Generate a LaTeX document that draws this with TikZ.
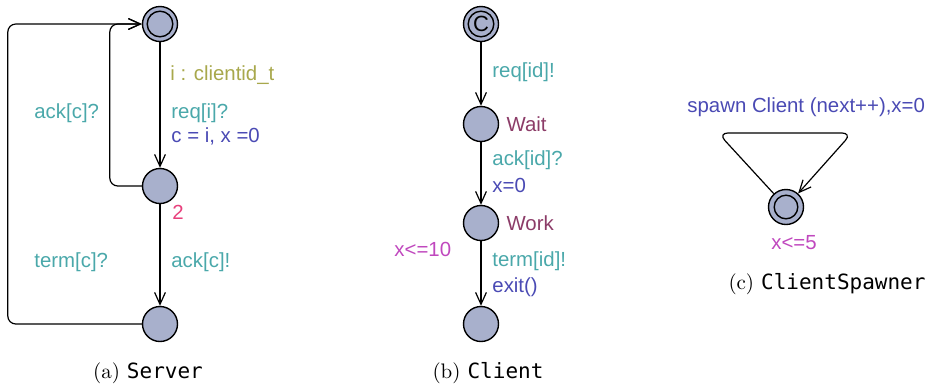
\documentclass[tikz,border=0pt]{standalone}
\usepackage{fontspec}
\newfontfamily\uppfont{Liberation Sans}
\newfontfamily\codefont{DejaVu Sans Mono}
\usepackage{xcolor}
\usetikzlibrary{arrows.meta,positioning}
\definecolor{locfill}{HTML}{A8B0CC}
\definecolor{synccol}{HTML}{4AA8AA}
\definecolor{updcol}{HTML}{4A4AB4}
\definecolor{selcol}{HTML}{A8A84C}
\definecolor{priocol}{HTML}{E8407C}
\definecolor{invcol}{HTML}{C048BE}
\definecolor{namecol}{HTML}{8C3C68}
\tikzset{
  loc/.style={circle, draw, fill=locfill, line width=0.7pt, minimum size=17.5pt, inner sep=0pt},
  init/.style={loc, path picture={\draw[line width=0.7pt] (path picture bounding box.center) circle (#1);}},
  init/.default={6.4pt},
  committed/.style={init, font=\uppfont\fontsize{11}{11}\selectfont},
  trans/.style={draw, line width=0.6pt, -{Straight Barb[length=6pt,width=5.4pt]}, rounded corners=4pt},
  lbl/.style={font=\uppfont\fontsize{10.2}{12}\selectfont, inner sep=0pt, anchor=west},
  sync/.style={lbl, text=synccol},
  upd/.style={lbl, text=updcol},
  select/.style={lbl, text=selcol},
  prio/.style={lbl, text=priocol},
  inv/.style={lbl, text=invcol},
  locname/.style={lbl, text=namecol},
  caption/.style={font=\fontsize{10.5}{12}\selectfont, inner sep=0pt}
}
\begin{document}
\begin{tikzpicture}[x=0.5pt, y=-0.5pt]
\useasboundingbox (0,0) rectangle (925,387);

% Server
\node[init] (srvA) at (160,24) {};
\node[loc] (srvB) at (160,186) {};
\node[loc] (srvC) at (160,324) {};
\draw[trans] (srvA) -- (srvB);
\draw[trans] (srvB) -- (srvC);
\draw[trans] (srvB.west) -- ++(-32,0) |- (srvA.west);
\draw[trans] (srvC.west) -- ++(-134,0) |- (srvA.west);
\node[select] (srvSel) at (170,75) {i : clientid\_t};
\node[sync] (srvReq) at (171,113) {req[i]?};
\node[upd] (srvUpd) at (171,136) {c = i, x =0};
\node[sync] (srvAckIn) at (34,113) {ack[c]?};
\node[prio] (srvPrio) at (172,212) {2};
\node[sync] (srvTerm) at (34,262) {term[c]?};
\node[sync] (srvAckOut) at (171,262) {ack[c]!};
\node[caption] (capA) at (148,373) {(a) {\codefont Server}};

% Client
\node[committed] (cliA) at (481,24) {C};
\node[loc] (cliWait) at (481,124) {};
\node[loc] (cliWork) at (481,223) {};
\node[loc] (cliEnd) at (481,324) {};
\draw[trans] (cliA) -- (cliWait);
\draw[trans] (cliWait) -- (cliWork);
\draw[trans] (cliWork) -- (cliEnd);
\node[locname, right=3.5pt of cliWait] (cliWaitName) {Wait};
\node[locname, right=3.5pt of cliWork] (cliWorkName) {Work};
\node[sync] (cliReq) at (492,72) {req[id]!};
\node[sync] (cliAck) at (492,160) {ack[id]?};
\node[upd] (cliUpd) at (492,185) {x=0};
\node[inv] (cliInv) at (394,249) {x<=10};
\node[sync] (cliTerm) at (492,261) {term[id]!};
\node[upd] (cliExit) at (492,287) {exit()};
\node[caption] (capB) at (488,373) {(b) {\codefont Client}};

% ClientSpawner
\node[init=5.9pt] (spw) at (786,207) {};
\coordinate (spwL) at (718,133);
\coordinate (spwR) at (852,133);
\draw[trans, rounded corners=5pt] (spw) -- (spwL) -- (spwR) -- (spw);
\node[upd] (spwUpd) at (687,107) {spawn Client (next++),x=0};
\node[inv, anchor=center] (spwInv) at (794,243) {x<=5};
\node[caption] (capC) at (827,284) {(c) {\codefont ClientSpawner}};
\end{tikzpicture}
\end{document}
